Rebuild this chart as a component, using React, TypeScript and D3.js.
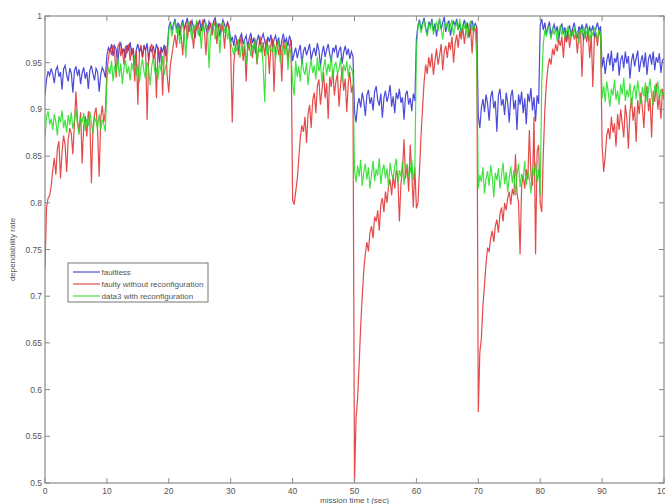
import React from "react";
import * as d3 from "d3";

// sample step of the recorded series (seconds)
const timeStep = 0.25;

// dependability rate, in thousandths, sampled every 0.25 s from t = 0 to t = 100
const faultless = [
915,932,941,936,944,938,928,942,946,935,940,921,943,947,937,930,944,939,918,941,946,936,943,927,939,945,933,940,922,942,947,938,931,944,940,919,937,945,941,934,
958,966,962,970,957,968,964,949,967,971,960,965,955,969,963,972,958,966,947,964,970,961,967,956,969,963,971,952,966,962,968,959,970,964,950,967,961,969,957,965,
988,994,984,991,997,986,993,979,990,996,985,992,998,983,990,995,987,976,993,989,996,984,991,997,988,980,994,990,986,995,998,987,992,978,989,996,991,985,993,988,
972,978,968,980,974,963,977,981,970,975,979,966,976,982,971,977,960,974,980,969,976,981,973,965,978,972,980,967,975,979,970,977,962,974,981,971,976,968,979,973,
952,960,966,955,963,969,948,962,967,958,964,970,953,961,966,957,971,963,946,960,968,956,964,970,959,951,966,962,969,955,963,967,949,961,968,958,965,954,962,957,
898,886,905,912,902,918,909,893,915,921,906,913,899,919,925,910,904,917,891,912,920,908,915,926,903,914,896,918,911,922,907,913,889,916,920,905,912,898,917,909,
975,990,996,985,993,998,987,980,994,989,997,984,992,978,990,996,986,993,999,983,991,995,979,988,994,990,997,985,992,981,989,996,987,993,977,990,995,986,992,988,
893,880,902,911,897,916,906,888,913,920,901,909,876,915,922,904,911,894,918,907,886,914,921,900,910,878,916,905,919,896,912,884,917,908,923,899,913,887,915,906,
990,997,985,993,980,988,994,978,986,991,983,989,975,987,992,981,988,972,985,990,979,987,993,982,976,989,984,991,974,986,992,980,988,983,990,977,987,993,984,989,
945,956,938,952,960,947,963,941,955,950,961,936,953,958,944,962,949,957,933,952,960,946,955,963,940,951,958,945,961,937,954,959,948,962,942,956,950,960,939,953,
955];

const faultyNoReconfig = [
730,795,805,808,818,835,848,830,858,866,826,855,872,862,833,868,880,874,852,885,919,888,876,897,842,882,893,871,898,886,821,880,895,902,876,828,891,904,886,898,
940,955,966,958,969,962,934,967,971,957,965,948,968,960,970,952,966,958,930,963,905,961,969,955,967,963,889,958,966,970,953,962,912,967,959,964,915,960,968,935,
918,948,958,970,980,966,986,990,978,958,986,993,975,989,995,983,965,990,986,994,978,988,996,984,958,990,985,993,979,989,995,970,987,992,983,990,965,988,994,985,
962,886,948,966,975,958,970,979,952,968,930,972,963,977,955,969,974,948,966,978,961,972,957,975,968,938,970,976,919,965,973,958,969,930,975,964,971,953,968,974,
803,798,812,825,848,870,883,876,892,864,895,905,880,910,918,896,925,932,905,921,940,912,928,890,935,924,943,915,930,938,903,927,945,920,933,897,929,940,918,926,
500,570,590,628,668,700,728,745,758,748,768,775,762,785,780,792,770,798,805,790,812,800,818,825,808,830,815,835,828,780,820,835,868,826,840,812,862,832,795,838,
794,800,835,872,902,930,948,938,956,945,960,937,952,965,948,958,970,942,962,968,955,972,964,978,950,970,980,966,984,975,988,970,985,992,978,987,960,990,983,988,
576,640,655,690,712,735,752,748,762,770,758,775,782,768,788,795,780,800,792,805,812,798,815,808,852,810,800,745,818,830,815,836,825,878,830,818,892,745,855,862,
800,790,852,900,928,945,955,948,965,958,970,962,975,968,978,955,980,972,984,966,978,985,975,982,960,980,986,935,978,984,972,983,955,980,924,975,982,968,985,978,
862,833,850,872,880,868,892,875,885,860,895,878,900,885,870,905,890,858,898,912,888,903,865,910,895,918,902,880,915,925,898,912,870,920,908,928,900,915,890,922,
910];

const withReconfig = [
870,892,898,884,890,878,895,887,872,893,886,899,880,889,875,894,883,897,879,888,900,884,873,891,886,896,877,890,882,898,885,874,892,887,880,895,878,889,884,876,
932,945,938,952,930,947,941,956,935,949,927,944,953,938,946,931,950,942,958,936,948,929,945,954,940,933,951,943,926,947,955,939,944,932,950,941,957,937,946,952,
985,992,978,988,995,982,990,970,986,993,980,955,988,994,984,975,991,986,996,979,988,965,990,983,993,986,944,980,991,987,975,993,985,960,989,994,982,990,975,986,
972,965,958,970,962,975,955,968,960,973,948,966,971,957,969,963,976,950,967,961,972,945,908,970,958,968,964,962,971,955,966,974,950,963,969,958,972,942,966,960,
928,915,952,935,946,930,955,942,937,950,926,944,953,939,947,932,956,941,948,929,945,954,936,949,940,958,933,946,951,938,943,955,930,948,941,952,935,947,944,938,
835,822,840,828,846,818,833,842,825,838,815,830,845,823,836,829,848,820,834,841,826,837,817,843,831,825,839,847,821,835,828,844,819,836,842,827,833,846,824,838,
965,988,994,982,990,996,985,978,992,987,995,980,989,993,984,998,986,975,991,988,994,983,990,996,979,988,993,985,997,982,990,987,994,976,989,995,984,991,986,955,
815,830,822,838,810,826,834,818,840,828,806,832,824,837,815,829,843,820,833,812,827,839,821,835,808,830,842,817,831,824,845,819,834,826,810,838,829,843,822,836,
808,930,970,985,978,990,983,975,988,980,986,972,984,990,979,987,976,983,989,974,985,980,988,977,984,970,986,981,989,976,983,987,973,985,979,988,982,975,986,980,
912,925,908,930,918,903,922,915,932,910,920,905,927,916,934,909,921,913,928,902,919,926,911,931,917,906,924,914,929,908,921,933,915,904,926,918,930,910,922,916,
918];

const seriesNames = ["faultless", "faulty without reconfiguration", "data3 with reconfiguration"];
const seriesColors = ["#2b2bd4", "#e02a2a", "#22dd22"];
const xTicks = [0, 10, 20, 30, 40, 50, 60, 70, 80, 90, 100];
const yTicks = [0.5, 0.55, 0.6, 0.65, 0.7, 0.75, 0.8, 0.85, 0.9, 0.95, 1];

const W = 665, H = 504;
const L = 45, R = 664, T = 16, B = 483;

export default function App() {
  const x = d3.scaleLinear().domain([0, 100]).range([L, R]);
  const y = d3.scaleLinear().domain([0.5, 1]).range([B, T]);
  const all = [faultless, faultyNoReconfig, withReconfig];
  const line = d3
    .line<number>()
    .x((_, i) => x(i * timeStep))
    .y((v) => y(v / 1000));
  const axisColor = "#8a8a8a";
  const textColor = "#555";
  const font = "Liberation Sans, Arial, sans-serif";
  const tl = 5;
  return (
    <svg width={W} height={H} style={{ position: "absolute", left: 0, top: 0, background: "#fff" }}>
      <defs>
        <clipPath id="plot">
          <rect x={L} y={T} width={R - L} height={B - T} />
        </clipPath>
      </defs>
      <rect x={0} y={0} width={W} height={H} fill="#fff" />
      <g clipPath="url(#plot)">
        {all.map((s, k) => (
          <path key={k} d={line(s) || ""} fill="none" stroke={seriesColors[k]} strokeWidth={1.2} strokeOpacity={0.85} />
        ))}
      </g>
      <rect x={L} y={T} width={R - L} height={B - T} fill="none" stroke={axisColor} strokeWidth={1.2} />
      {xTicks.map((t) => (
        <g key={"x" + t}>
          <line x1={x(t)} x2={x(t)} y1={B} y2={B - tl} stroke={axisColor} />
          <line x1={x(t)} x2={x(t)} y1={T} y2={T + tl} stroke={axisColor} />
          <text x={x(t)} y={B + 11} fontSize={8.5} fontFamily={font} fill={textColor} textAnchor="middle">
            {t}
          </text>
        </g>
      ))}
      {yTicks.map((t) => (
        <g key={"y" + t}>
          <line x1={L} x2={L + tl} y1={y(t)} y2={y(t)} stroke={axisColor} />
          <line x1={R} x2={R - tl} y1={y(t)} y2={y(t)} stroke={axisColor} />
          <text x={L - 3} y={y(t) + 3} fontSize={8.5} fontFamily={font} fill={textColor} textAnchor="end">
            {d3.format("~g")(t)}
          </text>
        </g>
      ))}
      <text x={(L + R) / 2} y={B + 20} fontSize={8} fontFamily={font} fill={textColor} textAnchor="middle">
        mission time t (sec)
      </text>
      <text
        transform={`translate(15,${(T + B) / 2}) rotate(-90)`}
        fontSize={8}
        fontFamily={font}
        fill={textColor}
        textAnchor="middle"
      >
        dependability rate
      </text>
      <g>
        <rect x={68} y={263} width={140} height={39} fill="#fff" stroke="#777" strokeWidth={1} />
        {seriesNames.map((n, k) => (
          <g key={n}>
            <line x1={73} x2={100} y1={272 + k * 12} y2={272 + k * 12} stroke={seriesColors[k]} strokeWidth={1} />
            <text x={101.5} y={275 + k * 12} fontSize={8} fontFamily={font} fill={textColor}>
              {n}
            </text>
          </g>
        ))}
      </g>
    </svg>
  );
}
